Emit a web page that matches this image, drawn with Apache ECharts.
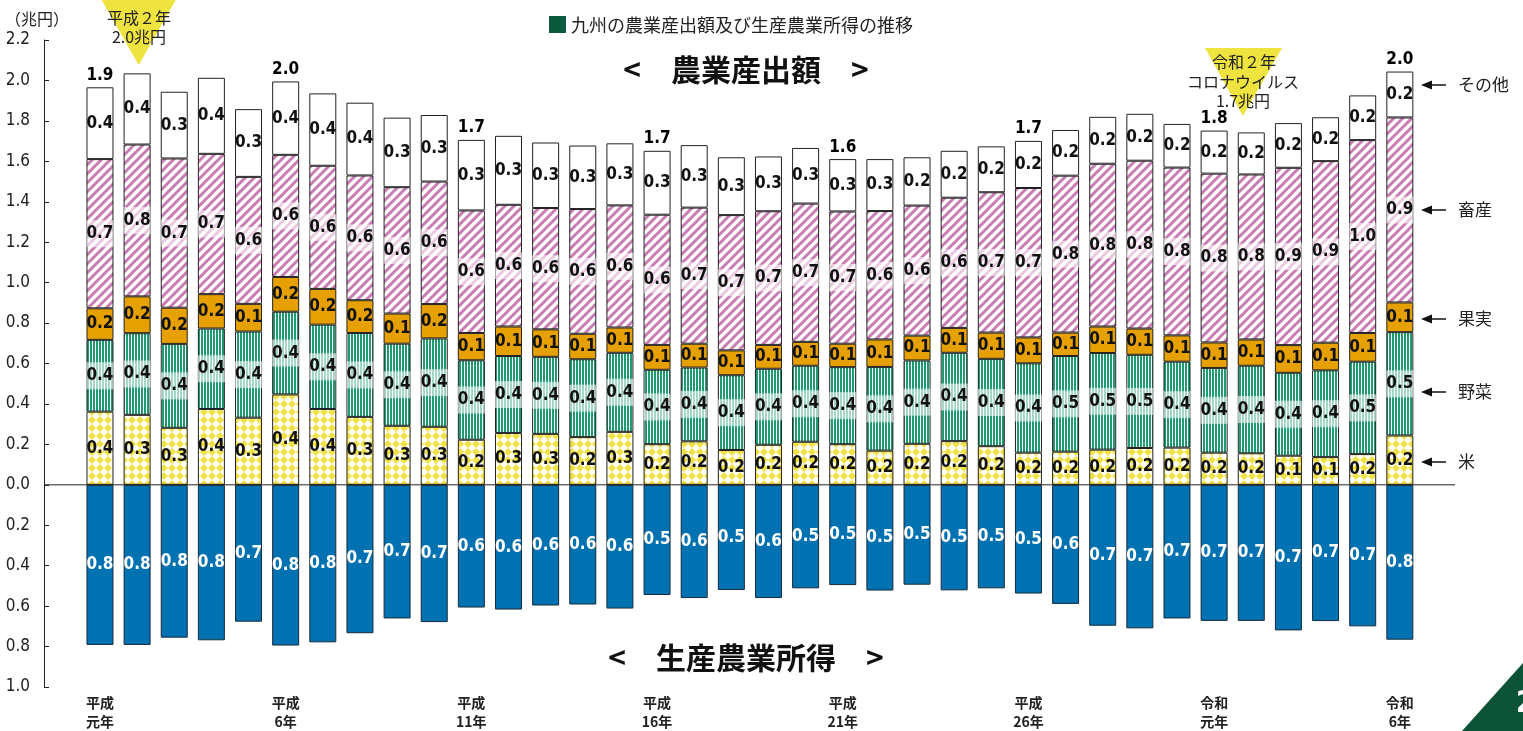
<!DOCTYPE html>
<html>
<head>
<meta charset="utf-8">
<script src="https://cdn.jsdelivr.net/npm/echarts@6/dist/echarts.min.js"></script>
<style>
html,body{margin:0;padding:0;background:#fff;}
#c{width:1523px;height:731px;}
</style>
</head>
<body>
<div id="c"></div>
<script>
// ---- data (兆円) ----
const categories = ['平成元年','平成2年','平成3年','平成4年','平成5年','平成6年','平成7年','平成8年','平成9年','平成10年',
  '平成11年','平成12年','平成13年','平成14年','平成15年','平成16年','平成17年','平成18年','平成19年','平成20年',
  '平成21年','平成22年','平成23年','平成24年','平成25年','平成26年','平成27年','平成28年','平成29年','平成30年',
  '令和元年','令和2年','令和3年','令和4年','令和5年','令和6年'];
const tickIndex = [0, 5, 10, 15, 20, 25, 30, 35];
const tickText = ['平成\n元年','平成\n6年','平成\n11年','平成\n16年','平成\n21年','平成\n26年','令和\n元年','令和\n6年'];

const rice = [0.362,0.346,0.282,0.375,0.332,0.447,0.375,0.336,0.292,0.287,
  0.223,0.256,0.252,0.236,0.262,0.201,0.215,0.172,0.198,0.213,
  0.201,0.169,0.203,0.216,0.191,0.159,0.164,0.174,0.182,0.184,
  0.159,0.156,0.144,0.137,0.152,0.244];
const vegetables = [0.355,0.404,0.415,0.398,0.426,0.409,0.417,0.415,0.406,0.437,
  0.393,0.381,0.381,0.385,0.391,0.368,0.365,0.370,0.376,0.376,
  0.381,0.414,0.412,0.437,0.432,0.442,0.473,0.478,0.461,0.425,
  0.419,0.433,0.410,0.429,0.457,0.511];
const fruit = [0.156,0.182,0.179,0.170,0.137,0.172,0.177,0.162,0.149,0.170,
  0.135,0.146,0.136,0.126,0.125,0.123,0.118,0.123,0.118,0.118,
  0.116,0.136,0.123,0.123,0.130,0.128,0.116,0.131,0.130,0.130,
  0.126,0.130,0.137,0.137,0.142,0.147];
const livestock = [0.738,0.751,0.738,0.694,0.628,0.604,0.609,0.617,0.625,0.606,
  0.606,0.602,0.600,0.617,0.604,0.644,0.673,0.669,0.661,0.684,
  0.654,0.635,0.643,0.644,0.694,0.739,0.776,0.805,0.830,0.830,
  0.835,0.816,0.877,0.898,0.954,0.915];
const other = [0.355,0.352,0.330,0.376,0.335,0.363,0.358,0.360,0.344,0.329,
  0.349,0.341,0.324,0.314,0.307,0.316,0.309,0.286,0.271,0.275,
  0.259,0.257,0.239,0.232,0.227,0.233,0.226,0.232,0.232,0.216,
  0.213,0.208,0.221,0.217,0.221,0.227];
const income = [0.792,0.792,0.756,0.769,0.677,0.795,0.779,0.734,0.661,0.679,
  0.607,0.617,0.597,0.592,0.612,0.545,0.560,0.520,0.560,0.512,
  0.496,0.523,0.494,0.522,0.512,0.538,0.589,0.697,0.710,0.661,
  0.673,0.673,0.720,0.674,0.700,0.766];
const totalLabels = ['1.9','','','','','2.0','','','','',
  '1.7','','','','','1.7','','','','',
  '1.6','','','','','1.7','','','','',
  '1.8','','','','','2.0'];
const yTicks = {min:-1.0, max:2.2, interval:0.2};

// ---- patterns ----
function makeCanvas(w, h, draw) {
  const c = document.createElement('canvas');
  c.width = w; c.height = h;
  draw(c.getContext('2d'));
  return c;
}
const ricePat = makeCanvas(8, 8, ctx => {
  ctx.fillStyle = '#ffffff'; ctx.fillRect(0, 0, 8, 8);
  ctx.fillStyle = '#f0e244';
  ctx.beginPath(); ctx.moveTo(4, 0); ctx.lineTo(8, 4); ctx.lineTo(4, 8); ctx.lineTo(0, 4); ctx.closePath(); ctx.fill();
});
const vegPat = makeCanvas(3, 4, ctx => {
  ctx.fillStyle = '#ffffff'; ctx.fillRect(0, 0, 3, 4);
  ctx.fillStyle = '#1f9a71'; ctx.fillRect(0, 0, 2, 4);
});
const livePat = makeCanvas(9, 9, ctx => {
  ctx.fillStyle = '#ffffff'; ctx.fillRect(0, 0, 9, 9);
  ctx.strokeStyle = '#c97cb3'; ctx.lineWidth = 3;
  ctx.beginPath();
  ctx.moveTo(-1, 10); ctx.lineTo(10, -1);
  ctx.moveTo(-3, 3); ctx.lineTo(3, -3);
  ctx.moveTo(6, 12); ctx.lineTo(12, 6);
  ctx.stroke();
});

const NUM_FONT = "'Liberation Sans Narrow','DejaVu Sans Condensed','Roboto Condensed','Roboto',sans-serif";
const JP_FONT = "'Noto Sans CJK JP','Noto Sans',sans-serif";

function segLabel(band, color) {
  const l = {
    show: true, position: 'inside', color: color || '#111',
    fontFamily: NUM_FONT, fontWeight: 'bold', fontSize: 17,
    formatter: p => Math.abs(p.value).toFixed(1)
  };
  if (band) {
    l.backgroundColor = 'rgba(255,255,255,0.6)';
    l.padding = [5, 0];
    l.width = 27;
    l.align = 'center';
  }
  return l;
}
function seg(name, arr, fill, band, sign) {
  return {
    type: 'bar', name: name, stack: 'total', barWidth: 27,
    data: arr.map(v => (sign ? -v : v)),
    itemStyle: {color: fill, borderColor: '#222', borderWidth: 1},
    label: segLabel(band),
    emphasis: {disabled: true}
  };
}

const incomeSeries = seg('生産農業所得', income, '#0071b1', false, true);
incomeSeries.label = segLabel(false, '#ffffff');
incomeSeries.itemStyle.borderColor = '#1a2a3a';

const totals = categories.map((c, i) => rice[i] + vegetables[i] + fruit[i] + livestock[i] + other[i]);

const series = [
  seg('米', rice, {image: ricePat, repeat: 'repeat'}, false),
  seg('野菜', vegetables, {image: vegPat, repeat: 'repeat'}, true),
  seg('果実', fruit, '#e6a000', false),
  seg('畜産', livestock, {image: livePat, repeat: 'repeat'}, true),
  seg('その他', other, '#ffffff', false),
  incomeSeries,
  {
    type: 'scatter', name: '合計', symbolSize: 1,
    itemStyle: {color: 'rgba(0,0,0,0)'},
    data: totals,
    label: {
      show: true, position: 'top', distance: 3, color: '#000', opacity: 1,
      fontFamily: NUM_FONT, fontWeight: 'bold', fontSize: 17,
      formatter: p => totalLabels[p.dataIndex]
    },
    z: 5, silent: true
  }
];

// ---- decorations ----
const sideLabels = [['その他', 85], ['畜産', 210], ['果実', 319], ['野菜', 392], ['米', 462]];
const graphic = [
  {type: 'text', x: 5, y: 19, style: {text: '（兆円）', fill: '#222', font: '16px ' + JP_FONT, textVerticalAlign: 'middle'}},
  {type: 'rect', shape: {x: 549, y: 16, width: 17, height: 17}, style: {fill: '#0b5a3e'}},
  {type: 'text', x: 571, y: 25, style: {text: '九州の農業産出額及び生産農業所得の推移', fill: '#222', font: '18px ' + JP_FONT, textVerticalAlign: 'middle'}},
  {type: 'text', x: 746, y: 70, style: {text: '<　農業産出額　>', fill: '#111', font: 'bold 30px ' + JP_FONT, textAlign: 'center', textVerticalAlign: 'middle'}},
  {type: 'text', x: 746, y: 658, style: {text: '<　生産農業所得　>', fill: '#111', font: 'bold 30px ' + JP_FONT, textAlign: 'center', textVerticalAlign: 'middle'}},
  {type: 'polygon', shape: {points: [[101.7, 0], [175.7, 0], [138.7, 65]]}, style: {fill: '#eee33f'}},
  {type: 'text', x: 139, y: 18, style: {text: '平成２年', fill: '#222', font: '16px ' + JP_FONT, textAlign: 'center', textVerticalAlign: 'middle'}},
  {type: 'text', x: 139, y: 37, style: {text: '2.0兆円', fill: '#222', font: '16px ' + JP_FONT, textAlign: 'center', textVerticalAlign: 'middle'}},
  {type: 'polygon', shape: {points: [[1205, 48], [1282, 48], [1243, 116]]}, style: {fill: '#eee33f'}},
  {type: 'text', x: 1244, y: 62, style: {text: '令和２年', fill: '#222', font: '16px ' + JP_FONT, textAlign: 'center', textVerticalAlign: 'middle'}},
  {type: 'text', x: 1243, y: 82, style: {text: 'コロナウイルス', fill: '#222', font: '16px ' + JP_FONT, textAlign: 'center', textVerticalAlign: 'middle'}},
  {type: 'text', x: 1243, y: 101, style: {text: '1.7兆円', fill: '#222', font: '16px ' + JP_FONT, textAlign: 'center', textVerticalAlign: 'middle'}},
  {type: 'polygon', shape: {points: [[1462, 731], [1523, 731], [1523, 663]]}, style: {fill: '#0b5236'}},
  {type: 'text', x: 1516, y: 704, style: {text: '2', fill: '#ffffff', font: 'bold 30px ' + NUM_FONT, textVerticalAlign: 'middle'}}
];
sideLabels.forEach(([t, y]) => {
  graphic.push({type: 'line', shape: {x1: 1430, y1: y, x2: 1446, y2: y}, style: {stroke: '#111', lineWidth: 1.5}});
  graphic.push({type: 'polygon', shape: {points: [[1421, y], [1432, y - 4.5], [1432, y + 4.5]]}, style: {fill: '#111'}});
  graphic.push({type: 'text', x: 1458, y: y, style: {text: t, fill: '#222', font: '17px ' + JP_FONT, textVerticalAlign: 'middle'}});
});

// grid: band = 37.14px, first bar centre at x=100; y axis line at x=44, zero line to x=1455
const AXIS_X = 44, LINE_END = 1455, GRID_L = 81.4, GRID_R = 104.6;

const chart = echarts.init(document.getElementById('c'), null, {renderer: 'canvas'});
chart.setOption({
  animation: false,
  backgroundColor: '#ffffff',
  grid: {left: GRID_L, right: GRID_R, top: 40, bottom: 39},
  xAxis: {
    type: 'category', data: categories, boundaryGap: true,
    axisLine: {show: false}, axisTick: {show: false}, splitLine: {show: false},
    axisLabel: {
      interval: 0, margin: 6, color: '#222', fontFamily: JP_FONT, fontWeight: 'bold', fontSize: 14, lineHeight: 19,
      formatter: (v, i) => { const k = tickIndex.indexOf(i); return k >= 0 ? tickText[k] : ''; }
    }
  },
  yAxis: {
    type: 'value', min: yTicks.min, max: yTicks.max, interval: yTicks.interval,
    offset: GRID_L - AXIS_X,
    axisLine: {show: true, onZero: false, lineStyle: {color: '#222', width: 1}},
    axisTick: {show: true, inside: true, length: 5, lineStyle: {color: '#222'}},
    splitLine: {show: false},
    axisLabel: {margin: 14, color: '#222', fontFamily: NUM_FONT, fontSize: 17, formatter: v => Math.abs(v).toFixed(1)}
  },
  series: series,
  graphic: graphic
});
// zero line across the full axis span, positioned through the y scale
const y0 = chart.convertToPixel({yAxisIndex: 0}, 0);
chart.setOption({
  graphic: graphic.concat([{type: 'line', z: 10, shape: {x1: AXIS_X, y1: y0, x2: LINE_END, y2: y0}, style: {stroke: '#222', lineWidth: 1}}])
});
</script>
</body>
</html>
